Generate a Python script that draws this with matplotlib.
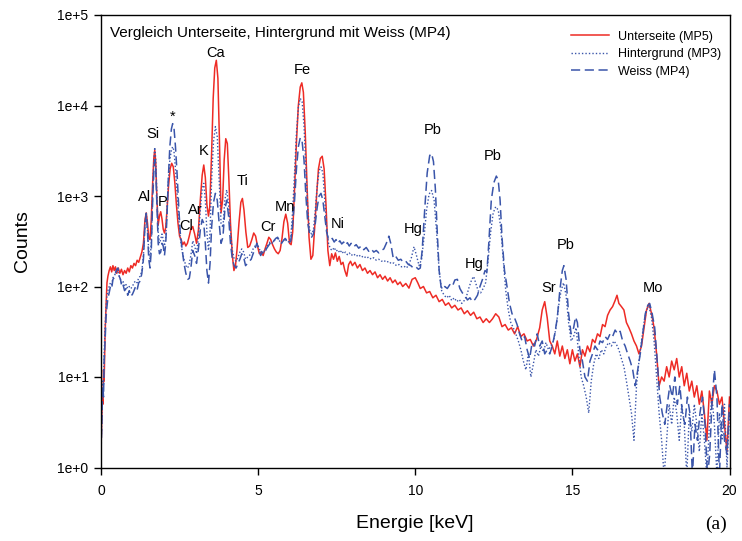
import numpy as np
import matplotlib
matplotlib.use("Agg")
import matplotlib.pyplot as plt
from matplotlib.ticker import FixedLocator, FuncFormatter, NullLocator

plt.rcParams['font.family'] = ['Liberation Sans', 'DejaVu Sans']

# Unterseite (MP5): energy [keV] and counts
red_kev = [0.00, 0.02, 0.04, 0.06, 0.08, 0.10, 0.13, 0.16, 0.19, 0.22, 0.26, 0.30, 0.34, 0.38, 0.42,
           0.46, 0.50, 0.55, 0.60, 0.65, 0.70, 0.75, 0.80, 0.85, 0.90, 0.95, 1.00, 1.05, 1.10, 1.15,
           1.20, 1.25, 1.30, 1.35, 1.40, 1.44, 1.48, 1.52, 1.56, 1.60, 1.64, 1.68, 1.71, 1.74, 1.78,
           1.82, 1.86, 1.90, 1.94, 1.98, 2.02, 2.06, 2.10, 2.15, 2.20, 2.25, 2.30, 2.35, 2.40, 2.45,
           2.50, 2.55, 2.60, 2.65, 2.70, 2.75, 2.80, 2.86, 2.92, 2.98, 3.04, 3.10, 3.16, 3.22, 3.27,
           3.32, 3.37, 3.42, 3.46, 3.52, 3.57, 3.62, 3.67, 3.72, 3.77, 3.82, 3.87, 3.92, 3.97, 4.02,
           4.07, 4.12, 4.18, 4.23, 4.28, 4.33, 4.39, 4.45, 4.50, 4.55, 4.61, 4.67, 4.73, 4.80, 4.86,
           4.92, 4.98, 5.04, 5.10, 5.16, 5.22, 5.28, 5.34, 5.40, 5.46, 5.52, 5.58, 5.64, 5.70, 5.76,
           5.82, 5.88, 5.94, 6.00, 6.05, 6.10, 6.16, 6.22, 6.28, 6.34, 6.39, 6.44, 6.50, 6.56, 6.62,
           6.68, 6.74, 6.80, 6.86, 6.92, 6.98, 7.04, 7.10, 7.16, 7.22, 7.28, 7.34, 7.40, 7.46, 7.52,
           7.58, 7.64, 7.70, 7.76, 7.82, 7.88, 7.94, 8.00, 8.08, 8.16, 8.24, 8.32, 8.40, 8.48, 8.56,
           8.64, 8.72, 8.80, 8.88, 8.96, 9.04, 9.12, 9.20, 9.28, 9.36, 9.44, 9.52, 9.60, 9.70, 9.80,
           9.90, 10.00, 10.08, 10.16, 10.26, 10.36, 10.46, 10.56, 10.66, 10.76, 10.86, 10.96, 11.06,
           11.16, 11.26, 11.36, 11.46, 11.56, 11.66, 11.76, 11.86, 11.96, 12.06, 12.16, 12.26, 12.36,
           12.46, 12.56, 12.66, 12.76, 12.86, 12.96, 13.06, 13.16, 13.26, 13.36, 13.46, 13.56, 13.66,
           13.76, 13.86, 13.96, 14.04, 14.12, 14.20, 14.28, 14.36, 14.44, 14.52, 14.60, 14.68, 14.76,
           14.84, 14.92, 15.00, 15.08, 15.16, 15.24, 15.32, 15.40, 15.48, 15.56, 15.64, 15.72, 15.80,
           15.88, 15.96, 16.04, 16.12, 16.20, 16.28, 16.36, 16.42, 16.48, 16.56, 16.64, 16.72, 16.80,
           16.88, 16.96, 17.04, 17.12, 17.20, 17.28, 17.36, 17.44, 17.52, 17.60, 17.68, 17.76, 17.84,
           17.92, 18.00, 18.08, 18.16, 18.24, 18.32, 18.40, 18.48, 18.56, 18.64, 18.72, 18.80, 18.88,
           18.96, 19.04, 19.12, 19.20, 19.28, 19.36, 19.44, 19.52, 19.60, 19.68, 19.76, 19.84, 19.92,
           20.00]
red_counts = [1.5, 3, 6, 5, 12, 9, 30, 60, 110, 130, 150, 165, 145, 170, 150,
              165, 140, 160, 140, 155, 135, 150, 140, 160, 145, 170, 160, 180, 170, 195,
              185, 210, 240, 300, 550, 650, 500, 340, 330, 550, 1300, 2600, 3200, 2400, 900,
              480, 600, 670, 560, 430, 390, 450, 700, 1300, 2000, 2300, 2100, 1400, 800, 500,
              360, 330, 290, 310, 280, 300, 350, 430, 460, 380, 300, 420, 900, 1700, 2200,
              1600, 800, 600, 750, 3000, 12000, 26000, 31600, 20000, 4000, 650, 900, 2500, 4300, 3800,
              1500, 500, 220, 150, 170, 260, 500, 850, 940, 700, 400, 270, 280, 330, 390,
              360, 280, 230, 240, 220, 260, 300, 350, 330, 290, 260, 240, 230, 250, 340,
              520, 630, 500, 300, 290, 400, 1200, 4000, 10000, 16000, 17800, 14000, 5000, 1200, 350,
              200, 220, 450, 1000, 2000, 2600, 2750, 2000, 800, 250, 170, 230, 200, 235, 190,
              215, 175, 185, 150, 130, 175, 190, 170, 185, 160, 175, 150, 160, 140, 150,
              135, 145, 125, 135, 120, 130, 115, 125, 110, 118, 105, 112, 100, 108, 96,
              120, 125, 110, 95, 100, 85, 88, 75, 80, 68, 72, 62, 66,
              58, 62, 55, 58, 50, 54, 48, 52, 44, 46, 40, 44, 40,
              44, 50, 46, 36, 38, 33, 35, 30, 36, 28, 30, 25, 26,
              22, 26, 35, 55, 68, 45, 25, 22, 18, 25, 17, 22, 16,
              20, 14, 20, 15, 18, 13, 20, 17, 22, 19, 26, 24, 30,
              28, 38, 36, 48, 55, 60, 70, 80, 65, 60, 55, 40, 35,
              30, 25, 22, 18, 22, 35, 55, 65, 50, 35, 18, 8, 10,
              9, 13, 10, 15, 12, 16, 10, 13, 8, 11, 7, 9, 6,
              8, 5, 7, 4, 2, 7, 5, 8, 7, 5, 6, 3, 1.5,
              6]

# Hintergrund (MP3)
bg_kev = [0.00, 0.02, 0.04, 0.06, 0.08, 0.10, 0.13, 0.16, 0.19, 0.22, 0.26, 0.30, 0.34, 0.38, 0.42,
          0.46, 0.50, 0.54, 0.58, 0.62, 0.66, 0.70, 0.75, 0.80, 0.85, 0.90, 0.95, 1.00, 1.05, 1.10,
          1.15, 1.20, 1.25, 1.30, 1.35, 1.40, 1.44, 1.48, 1.52, 1.56, 1.60, 1.64, 1.68, 1.71, 1.74,
          1.78, 1.82, 1.86, 1.90, 1.94, 1.98, 2.02, 2.06, 2.10, 2.14, 2.19, 2.24, 2.28, 2.32, 2.37,
          2.42, 2.47, 2.52, 2.58, 2.64, 2.70, 2.76, 2.81, 2.86, 2.92, 2.98, 3.04, 3.10, 3.16, 3.22,
          3.27, 3.32, 3.37, 3.42, 3.47, 3.52, 3.58, 3.64, 3.70, 3.76, 3.82, 3.88, 3.94, 4.00, 4.06,
          4.12, 4.18, 4.24, 4.30, 4.36, 4.42, 4.48, 4.54, 4.60, 4.66, 4.72, 4.78, 4.84, 4.90, 4.96,
          5.02, 5.08, 5.14, 5.20, 5.26, 5.32, 5.38, 5.44, 5.50, 5.56, 5.62, 5.68, 5.74, 5.80, 5.86,
          5.92, 5.98, 6.04, 6.10, 6.16, 6.22, 6.28, 6.34, 6.40, 6.46, 6.52, 6.58, 6.64, 6.70, 6.76,
          6.82, 6.88, 6.94, 7.00, 7.06, 7.12, 7.18, 7.24, 7.30, 7.36, 7.42, 7.48, 7.54, 7.60, 7.66,
          7.72, 7.78, 7.84, 7.90, 7.96, 8.04, 8.12, 8.20, 8.28, 8.36, 8.44, 8.52, 8.60, 8.68, 8.76,
          8.84, 8.92, 9.00, 9.08, 9.16, 9.24, 9.32, 9.40, 9.48, 9.56, 9.64, 9.72, 9.80, 9.88, 9.96,
          10.04, 10.12, 10.20, 10.28, 10.36, 10.44, 10.52, 10.60, 10.68, 10.76, 10.84, 10.92, 11.00,
          11.08, 11.16, 11.24, 11.32, 11.40, 11.48, 11.56, 11.64, 11.72, 11.80, 11.86, 11.92, 12.00,
          12.08, 12.16, 12.24, 12.32, 12.40, 12.48, 12.56, 12.64, 12.72, 12.80, 12.88, 12.96, 13.04,
          13.12, 13.20, 13.28, 13.36, 13.44, 13.52, 13.60, 13.68, 13.76, 13.84, 13.92, 14.00, 14.08,
          14.16, 14.24, 14.32, 14.40, 14.48, 14.56, 14.64, 14.72, 14.80, 14.88, 14.96, 15.04, 15.12,
          15.20, 15.28, 15.36, 15.44, 15.52, 15.60, 15.68, 15.76, 15.84, 15.92, 16.00, 16.08, 16.16,
          16.24, 16.32, 16.40, 16.48, 16.56, 16.64, 16.72, 16.80, 16.88, 16.96, 17.04, 17.12, 17.20,
          17.28, 17.36, 17.44, 17.52, 17.60, 17.68, 17.76, 17.84, 17.92, 18.00, 18.08, 18.16, 18.24,
          18.32, 18.40, 18.48, 18.56, 18.64, 18.72, 18.80, 18.88, 18.96, 19.04, 19.12, 19.20, 19.28,
          19.36, 19.44, 19.52, 19.60, 19.68, 19.76, 19.84, 19.92, 20.00]
bg_counts = [1.5, 3, 6, 9, 8, 18, 35, 60, 80, 90, 100, 110, 105, 125, 130,
             140, 150, 145, 130, 120, 110, 115, 100, 105, 95, 100, 95, 100, 110, 115,
             110, 125, 130, 150, 220, 500, 660, 420, 250, 200, 300, 1000, 2400, 3450, 2600,
             1000, 400, 300, 330, 380, 330, 280, 350, 700, 1400, 2500, 3200, 3500, 3200, 2000,
             1100, 600, 350, 250, 200, 170, 160, 180, 220, 320, 280, 230, 350, 700, 1200,
             1380, 900, 400, 250, 400, 1500, 4000, 5850, 4500, 1500, 500, 450, 900, 1170, 800,
             400, 250, 200, 190, 210, 240, 260, 240, 200, 210, 220, 230, 260, 280, 300,
             270, 240, 250, 245, 270, 290, 310, 300, 320, 330, 340, 320, 300, 320, 340,
             320, 310, 350, 700, 1800, 5000, 9500, 12000, 11000, 6000, 2000, 700, 420, 380, 420,
             700, 1300, 1900, 2100, 1800, 900, 450, 300, 260, 250, 270, 245, 255, 235, 250,
             230, 240, 225, 235, 220, 230, 215, 225, 210, 218, 205, 212, 200, 208, 195,
             200, 190, 195, 185, 190, 178, 182, 170, 175, 165, 168, 160, 175, 210, 275,
             220, 170, 200, 350, 700, 1050, 1150, 900, 400, 150, 90, 80, 75,
             80, 70, 75, 68, 72, 65, 70, 80, 100, 120, 129, 110, 90,
             85, 95, 110, 200, 400, 650, 760, 700, 450, 200, 90, 55, 40,
             35, 30, 25, 20, 15, 12, 18, 10, 14, 20, 17, 22, 19,
             24, 20, 22, 25, 35, 60, 90, 110, 80, 40, 25, 28, 35,
             18, 10, 8, 6, 4, 9, 14, 18, 16, 20, 18, 22, 24,
             22, 25, 23, 20, 16, 13, 9, 6, 4, 2, 8, 15, 25,
             40, 55, 60, 45, 25, 10, 4, 2, 0.8, 2, 5, 3, 6,
             4, 2, 5, 3, 0.8, 4, 2.5, 5, 3, 1.5, 4, 2, 0.8,
             3, 6, 3, 0.8, 4, 2, 5, 1, 4]

# Weiss (MP4)
white_kev = [0.00, 0.02, 0.04, 0.06, 0.08, 0.10, 0.13, 0.16, 0.19, 0.22, 0.26, 0.30, 0.34, 0.38, 0.42,
             0.46, 0.50, 0.54, 0.58, 0.62, 0.66, 0.70, 0.75, 0.80, 0.85, 0.90, 0.95, 1.00, 1.05, 1.10,
             1.15, 1.20, 1.25, 1.30, 1.35, 1.40, 1.44, 1.48, 1.52, 1.56, 1.60, 1.64, 1.68, 1.71, 1.74,
             1.78, 1.82, 1.86, 1.90, 1.94, 1.98, 2.02, 2.06, 2.10, 2.14, 2.19, 2.24, 2.28, 2.32, 2.37,
             2.42, 2.47, 2.52, 2.58, 2.64, 2.70, 2.76, 2.81, 2.86, 2.92, 2.98, 3.04, 3.10, 3.16, 3.22,
             3.27, 3.32, 3.37, 3.42, 3.47, 3.52, 3.58, 3.64, 3.70, 3.76, 3.82, 3.88, 3.94, 4.00, 4.06,
             4.12, 4.18, 4.24, 4.30, 4.36, 4.42, 4.48, 4.54, 4.60, 4.66, 4.72, 4.78, 4.84, 4.90, 4.96,
             5.02, 5.08, 5.14, 5.20, 5.26, 5.32, 5.38, 5.44, 5.50, 5.56, 5.62, 5.68, 5.74, 5.80, 5.86,
             5.92, 5.98, 6.04, 6.10, 6.16, 6.22, 6.28, 6.34, 6.40, 6.46, 6.52, 6.58, 6.64, 6.70, 6.76,
             6.82, 6.88, 6.94, 7.00, 7.06, 7.12, 7.18, 7.24, 7.30, 7.36, 7.42, 7.48, 7.54, 7.60, 7.66,
             7.72, 7.78, 7.84, 7.90, 7.96, 8.04, 8.12, 8.20, 8.28, 8.36, 8.44, 8.52, 8.60, 8.68, 8.76,
             8.84, 8.92, 9.00, 9.08, 9.16, 9.22, 9.30, 9.38, 9.46, 9.54, 9.62, 9.70, 9.78, 9.86, 9.94,
             10.02, 10.10, 10.16, 10.22, 10.30, 10.38, 10.46, 10.52, 10.58, 10.64, 10.70, 10.76, 10.82,
             10.88, 10.94, 11.02, 11.10, 11.18, 11.26, 11.34, 11.42, 11.50, 11.58, 11.66, 11.74, 11.82,
             11.90, 11.98, 12.06, 12.14, 12.22, 12.28, 12.34, 12.42, 12.50, 12.58, 12.64, 12.70, 12.76,
             12.84, 12.92, 13.00, 13.08, 13.16, 13.24, 13.32, 13.40, 13.48, 13.56, 13.64, 13.72, 13.80,
             13.88, 13.96, 14.04, 14.12, 14.20, 14.28, 14.36, 14.44, 14.52, 14.60, 14.68, 14.73, 14.80,
             14.88, 14.96, 15.04, 15.10, 15.16, 15.24, 15.32, 15.40, 15.48, 15.56, 15.64, 15.72, 15.80,
             15.88, 15.96, 16.04, 16.12, 16.20, 16.28, 16.36, 16.44, 16.52, 16.60, 16.68, 16.76, 16.84,
             16.92, 17.00, 17.08, 17.16, 17.24, 17.32, 17.40, 17.46, 17.54, 17.62, 17.70, 17.78, 17.86,
             17.94, 18.02, 18.10, 18.18, 18.26, 18.34, 18.42, 18.50, 18.58, 18.66, 18.74, 18.82, 18.90,
             18.98, 19.06, 19.14, 19.22, 19.30, 19.37, 19.44, 19.52, 19.60, 19.68, 19.76, 19.84, 19.92,
             20.00]
white_counts = [1.5, 2.5, 5, 8, 6, 15, 25, 45, 60, 75, 85, 100, 95, 120, 125,
                140, 155, 160, 130, 120, 100, 105, 90, 95, 80, 90, 78, 82, 90, 100,
                92, 110, 115, 140, 200, 480, 640, 400, 200, 160, 250, 800, 1800, 2500, 2000,
                800, 300, 230, 240, 300, 280, 220, 300, 600, 1500, 3500, 5500, 6300, 5800, 3500,
                1800, 800, 400, 260, 180, 140, 120, 123, 160, 250, 220, 180, 260, 420, 550,
                500, 300, 150, 109, 180, 450, 850, 1070, 900, 500, 300, 350, 700, 900, 600,
                300, 200, 170, 160, 180, 200, 230, 210, 170, 180, 190, 200, 230, 260, 300,
                260, 220, 240, 230, 260, 280, 300, 290, 320, 340, 350, 320, 300, 320, 340,
                310, 300, 320, 500, 900, 2000, 3500, 4400, 4000, 2500, 1000, 500, 380, 350, 380,
                500, 750, 1000, 1070, 900, 600, 400, 330, 325, 340, 310, 330, 300, 320, 295,
                310, 285, 305, 280, 300, 275, 290, 265, 280, 255, 270, 245, 260, 240, 250,
                235, 250, 260, 300, 360, 300, 205, 215, 195, 200, 185, 190, 175, 170, 160,
                165, 155, 160, 250, 700, 1800, 2800, 2950, 2400, 1200, 400, 150, 100,
                92, 100, 95, 105, 100, 118, 120, 95, 85, 80, 71, 75, 68,
                72, 80, 100, 120, 150, 145, 300, 900, 1400, 1660, 1500, 900, 350,
                150, 100, 65, 50, 45, 38, 30, 25, 28, 20, 16, 24, 22,
                30, 22, 25, 18, 20, 18, 22, 30, 45, 90, 150, 170, 120,
                50, 30, 35, 46, 40, 20, 15, 10, 9, 15, 18, 22, 20,
                25, 24, 28, 26, 30, 28, 33, 30, 32, 25, 22, 18, 15,
                12, 8, 12, 18, 30, 50, 62, 65, 50, 35, 15, 6, 4,
                3, 5, 8, 6, 10, 5, 8, 4, 3, 6, 4, 0.8, 3,
                2, 4, 6, 3, 0.8, 1.4, 5, 12, 6, 0.8, 5, 2, 1.4,
                5]

# peak labels: element, energy, counts where the label sits
peak_names = ['Al', 'Si', 'P', '*', 'Cl', 'Ar', 'K', 'Ca', 'Ti', 'Cr', 'Mn', 'Fe', 'Ni',
              'Hg', 'Pb', 'Hg', 'Pb', 'Sr', 'Pb', 'Mo']
peak_kev = [1.40, 1.66, 1.97, 2.29, 2.71, 3.00, 3.25, 3.63, 4.49, 5.32, 5.86, 6.40, 7.52,
            9.94, 10.54, 11.88, 12.48, 14.24, 14.78, 17.55]
peak_counts = [975, 4840, 860, 7460, 466, 700, 3140, 38000, 1465, 454, 756, 24700, 490,
               432, 5360, 177, 2770, 96, 288, 96]

red = '#ee2b25'
blue = '#3a55aa'

fig = plt.figure(figsize=(7.42, 5.41), dpi=100)
ax = fig.add_axes([101 / 742, 1 - 467.5 / 541, 628.5 / 742, 452.5 / 541])

ax.plot(red_kev, red_counts, color=red, lw=1.1, label='Unterseite (MP5)')
ax.plot(bg_kev, bg_counts, color=blue, lw=1.0, ls=(0, (1, 1.5)), label='Hintergrund (MP3)')
ax.plot(white_kev, white_counts, color=blue, lw=1.1, ls=(0, (6, 3)), label='Weiss (MP4)')

ax.set_yscale('log')
ax.set_xlim(0, 20)
ax.set_ylim(1, 1e5)
ax.set_xticks([0, 5, 10, 15, 20])
ax.xaxis.set_minor_locator(NullLocator())
ax.yaxis.set_major_locator(FixedLocator([1e0, 1e1, 1e2, 1e3, 1e4, 1e5]))
ax.yaxis.set_minor_locator(NullLocator())
ax.yaxis.set_major_formatter(FuncFormatter(lambda v, p: '1e+%d' % round(np.log10(v))))
ax.tick_params(direction='out', length=5, width=1, labelsize=10)
ax.tick_params(axis='x', pad=7)
ax.tick_params(axis='y', pad=4)
for s in ax.spines.values():
    s.set_linewidth(1.0)

ax.set_xlabel('Energie [keV]', fontsize=14, labelpad=12)
ax.set_ylabel('Counts', fontsize=14, labelpad=19)

ax.text(0.014, 0.96, 'Vergleich Unterseite, Hintergrund mit Weiss (MP4)', transform=ax.transAxes,
        fontsize=11, ha='left', va='center')

for name, e, c in zip(peak_names, peak_kev, peak_counts):
    ax.text(e, c, name, fontsize=10.5, ha='center', va='center')

ax.legend(loc='upper right', bbox_to_anchor=(1.0, 0.985), frameon=False, fontsize=9,
          handlelength=3.0, handletextpad=0.7, labelspacing=0.45, borderaxespad=0.3)

fig.text(716 / 742, 1 - 524 / 541, '(a)', fontsize=14, ha='center', va='center',
         family=['Liberation Serif', 'DejaVu Serif'])

fig.savefig('out.png', dpi=100)
